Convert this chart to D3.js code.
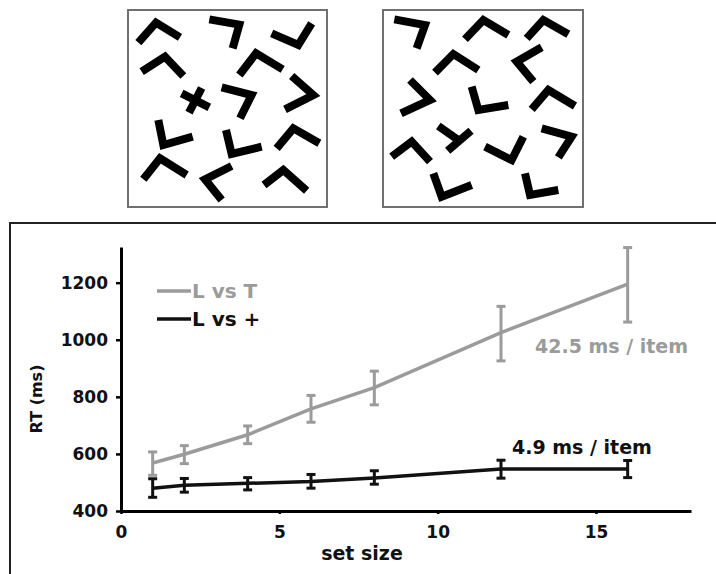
<!DOCTYPE html>
<html>
<head>
<meta charset="utf-8">
<script src="https://cdn.jsdelivr.net/npm/d3@7"></script>
<style>
  body { margin: 0; background: #fff; }
  svg { display: block; }
  text { font-family: "DejaVu Sans", sans-serif; font-weight: bold; }
</style>
</head>
<body>
<div id="chart"></div>
<script>
// set sizes and mean RT (ms) with error bar ends
const setSizes = [1, 2, 4, 6, 8, 12, 16];
const lvtMean = [568, 599, 667, 758, 832, 1025, 1195];
const lvtLow  = [525, 566, 636, 711, 772, 926, 1062];
const lvtHigh = [607, 629, 698, 805, 890, 1117, 1323];
const lvpMean = [480, 490, 497, 503, 516, 547, 547];
const lvpLow  = [448, 466, 474, 480, 494, 515, 517];
const lvpHigh = [513, 514, 517, 528, 541, 578, 577];

const xTicks = [0, 5, 10, 15];
const yTicks = [400, 600, 800, 1000, 1200];
const seriesNames = ['L vs T', 'L vs +'];
const slopeLabels = ['42.5 ms / item', '4.9 ms / item'];

// search displays: each item is a polyline in a 0..660 box grid
const displayA = [
  [[55,128],[108,68],[180,112]],
  [[268,58],[358,74],[338,145]],
  [[455,100],[535,135],[575,70]],
  [[65,215],[135,170],[190,228]],
  [[358,225],[408,160],[488,208]],
  [[515,228],[580,285],[495,328]],
  [[305,262],[395,285],[360,355]],
  [[115,360],[130,435],[218,410]],
  [[318,390],[335,462],[425,440]],
  [[470,445],[520,385],[598,430]],
  [[70,538],[120,475],[200,525]],
  [[335,498],[255,538],[305,600]],
  [[432,555],[490,510],[560,572]],
  [[185,280],[268,322]],
  [[245,264],[207,338]]
];
const displayB = [
  [[58,58],[150,75],[125,145]],
  [[270,118],[325,60],[400,105]],
  [[455,115],[505,60],[580,103]],
  [[180,218],[235,162],[310,210]],
  [[500,142],[425,185],[475,245]],
  [[105,240],[165,300],[78,340]],
  [[290,260],[310,330],[400,315]],
  [[470,328],[520,270],[600,318]],
  [[50,470],[110,425],[165,485]],
  [[330,440],[410,480],[445,410]],
  [[500,385],[590,410],[550,472]],
  [[175,520],[200,590],[290,555]],
  [[450,520],[465,585],[550,570]],
  [[218,452],[288,392]],
  [[253,422],[190,378]]
];

const width = 716, height = 574;
const gray = '#9b9b9b', black = '#111';

const svg = d3.select('#chart')
    .append('svg')
    .attr('width', width)
    .attr('height', height);

// two stimulus boxes
const boxes = [
  {left: 120, data: displayA, rect: [128, 10, 199, 197]},
  {left: 375, data: displayB, rect: [383, 10, 200, 197]}
];

boxes.forEach(b => {
  const bx = d3.scaleLinear().domain([0, 660]).range([b.left, b.left + 220]);
  const by = d3.scaleLinear().domain([0, 630]).range([0, 210]);
  const g = svg.append('g');
  g.append('rect')
      .attr('x', b.rect[0]).attr('y', b.rect[1])
      .attr('width', b.rect[2]).attr('height', b.rect[3])
      .attr('fill', 'none')
      .attr('stroke', '#707070')
      .attr('stroke-width', 2);
  const glyph = d3.line().x(d => bx(d[0])).y(d => by(d[1]));
  g.selectAll('path.item')
      .data(b.data)
      .enter()
      .append('path')
      .attr('class', 'item')
      .attr('d', glyph)
      .attr('fill', 'none')
      .attr('stroke', '#000')
      .attr('stroke-width', 8)
      .attr('stroke-linejoin', 'miter');
});

// chart panel frame
svg.append('path')
    .attr('d', 'M716,223 L10,223 L10,580')
    .attr('fill', 'none')
    .attr('stroke', '#222')
    .attr('stroke-width', 2);

const x = d3.scaleLinear().domain([0, 18]).range([121, 691]);
const y = d3.scaleLinear().domain([400, 1325]).range([511, 247]);

const xAxis = svg.append('g')
    .attr('transform', `translate(0,${y(400)})`)
    .call(d3.axisBottom(x).tickValues(xTicks).tickFormat(d3.format('d'))
      .tickSize(3).tickSizeOuter(0).tickPadding(12));
const yAxis = svg.append('g')
    .attr('transform', `translate(${x(0)},0)`)
    .call(d3.axisLeft(y).tickValues(yTicks).tickFormat(d3.format('d'))
      .tickSize(5).tickSizeOuter(0).tickPadding(8));

[xAxis, yAxis].forEach(a => {
  a.select('.domain').attr('stroke', '#000').attr('stroke-width', 3);
  a.selectAll('.tick line').attr('stroke', '#000').attr('stroke-width', 2.5);
  a.selectAll('.tick text')
      .attr('fill', '#111')
      .style('font-family', '"DejaVu Sans", sans-serif')
      .style('font-weight', 'bold')
      .style('font-size', '17px');
});

svg.append('text')
    .attr('transform', 'translate(36,399) rotate(-90)')
    .attr('text-anchor', 'middle')
    .attr('dy', '0.36em')
    .attr('fill', '#111')
    .style('font-size', '16px')
    .text('RT (ms)');

svg.append('text')
    .attr('x', 362)
    .attr('y', 560)
    .attr('text-anchor', 'middle')
    .attr('fill', '#111')
    .style('font-size', '19px')
    .text('set size');

const series = [
  {mean: lvtMean, low: lvtLow, high: lvtHigh, color: gray},
  {mean: lvpMean, low: lvpLow, high: lvpHigh, color: black}
];

const line = d3.line()
    .x(d => x(d.s))
    .y(d => y(d.m));

series.forEach(ser => {
  const pts = setSizes.map((s, i) => ({s: s, m: ser.mean[i], lo: ser.low[i], hi: ser.high[i]}));
  const g = svg.append('g');
  g.append('path')
      .datum(pts)
      .attr('fill', 'none')
      .attr('stroke', ser.color)
      .attr('stroke-width', 3.5)
      .attr('d', line);
  const bars = g.selectAll('g.err')
      .data(pts)
      .enter()
      .append('g')
      .attr('class', 'err')
      .attr('stroke', ser.color);
  bars.append('line')
      .attr('x1', d => x(d.s)).attr('x2', d => x(d.s))
      .attr('y1', d => y(d.lo)).attr('y2', d => y(d.hi))
      .attr('stroke-width', 3);
  bars.append('line')
      .attr('x1', d => x(d.s) - 4.5).attr('x2', d => x(d.s) + 4.5)
      .attr('y1', d => y(d.hi)).attr('y2', d => y(d.hi))
      .attr('stroke-width', 3);
  bars.append('line')
      .attr('x1', d => x(d.s) - 4.5).attr('x2', d => x(d.s) + 4.5)
      .attr('y1', d => y(d.lo)).attr('y2', d => y(d.lo))
      .attr('stroke-width', 3);
});

// legend
const legend = svg.append('g');
seriesNames.forEach((name, i) => {
  const ly = 291 + i * 28;
  legend.append('line')
      .attr('x1', 157).attr('x2', 191)
      .attr('y1', ly).attr('y2', ly)
      .attr('stroke', series[i].color)
      .attr('stroke-width', 3.5);
  legend.append('text')
      .attr('x', 192)
      .attr('y', ly + 7)
      .attr('fill', series[i].color)
      .style('font-size', '20px')
      .text(name);
});

// slope annotations
svg.append('text')
    .attr('x', 535)
    .attr('y', 353)
    .attr('fill', gray)
    .style('font-size', '19px')
    .text(slopeLabels[0]);
svg.append('text')
    .attr('x', 512)
    .attr('y', 454)
    .attr('fill', black)
    .style('font-size', '19px')
    .text(slopeLabels[1]);
</script>
</body>
</html>
